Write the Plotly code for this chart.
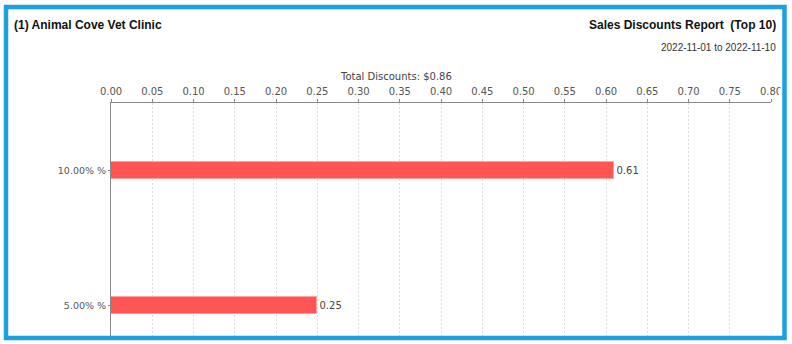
import plotly.graph_objects as go

# Report data
categories = ["10.00% %", "5.00% %"]
discounts = [0.61, 0.25]
total_discount = 0.86
clinic_title = "(1) Animal Cove Vet Clinic"
report_title = "Sales Discounts Report\u00a0\u00a0(Top 10)"
date_range = "2022-11-01 to 2022-11-10"

WIDTH, HEIGHT = 792, 344
M_L, M_R, M_T, M_B = 111, 21, 103, 8
PW = WIDTH - M_L - M_R
PH = HEIGHT - M_T - M_B


def px(x):
    """Pixel x -> paper coordinate."""
    return (x - M_L) / PW


def py(y):
    """Pixel y (from top) -> paper coordinate."""
    return (HEIGHT - M_B - y) / PH


TICK_FONT = dict(family="DejaVu Sans", size=10, color="#555555")

fig = go.Figure(
    go.Bar(
        x=discounts,
        y=categories,
        orientation="h",
        width=0.124,
        marker=dict(color="#FF5555", line=dict(color="#FFA0A0", width=1)),
        text=[f"{v:.2f}" for v in discounts],
        textposition="outside",
        textfont=dict(family="DejaVu Sans", size=10, color="#444444"),
        cliponaxis=False,
        hoverinfo="skip",
    )
)

fig.update_layout(
    width=WIDTH,
    height=HEIGHT,
    margin=dict(l=M_L, r=M_R, t=M_T, b=M_B, pad=0),
    paper_bgcolor="white",
    plot_bgcolor="white",
    showlegend=False,
    xaxis=dict(
        side="top",
        range=[0, 0.8],
        tickmode="array",
        tickvals=[i * 0.05 for i in range(17)],
        ticktext=[f"{i * 0.05:.2f}" for i in range(17)],
        tickfont=TICK_FONT,
        ticks="outside",
        ticklen=3,
        tickcolor="#888888",
        showline=True,
        linecolor="#888888",
        linewidth=1,
        showgrid=True,
        gridcolor="#DCDCDC",
        gridwidth=1,
        griddash="2px,2px",
        zeroline=False,
        fixedrange=True,
    ),
    yaxis=dict(
        type="category",
        categoryorder="array",
        categoryarray=categories,
        range=[1.228, -0.503],
        tickfont=dict(family="DejaVu Sans", size=9.5, color="#555555"),
        ticks="outside",
        ticklen=2,
        tickcolor="#888888",
        showline=True,
        linecolor="#888888",
        linewidth=1,
        showgrid=False,
        zeroline=False,
        fixedrange=True,
    ),
    bargap=0,
)

annotations = [
    dict(text=f"<b>{clinic_title}</b>", x=px(12), y=py(25), xanchor="left", yanchor="middle",
         font=dict(family="Liberation Sans", size=12, color="#111111")),
    dict(text=f"<b>{report_title}</b>", x=px(778), y=py(25), xanchor="right", yanchor="middle",
         font=dict(family="Liberation Sans", size=12, color="#111111")),
    dict(text=date_range, x=px(778), y=py(48), xanchor="right", yanchor="middle",
         font=dict(family="Liberation Sans", size=10, color="#333333")),
    dict(text=f"Total Discounts: ${total_discount:.2f}", x=px(WIDTH / 2), y=py(76),
         xanchor="center", yanchor="middle",
         font=dict(family="DejaVu Sans", size=10, color="#444444")),
]
for a in annotations:
    a.update(xref="paper", yref="paper", showarrow=False)
fig.update_layout(annotations=annotations)

fig.update_layout(shapes=[
    # chart image clips the last tick label
    dict(type="rect", xref="paper", yref="paper", layer="above",
         x0=px(779), x1=px(782), y0=py(88), y1=py(101),
         fillcolor="white", line=dict(width=0)),
    # frame
    dict(type="rect", xref="paper", yref="paper", layer="above",
         x0=px(6), x1=px(784.5), y0=py(338), y1=py(7),
         fillcolor="rgba(0,0,0,0)", line=dict(color="#1BA1E2", width=4.5)),
])

fig.write_html("out.html")
